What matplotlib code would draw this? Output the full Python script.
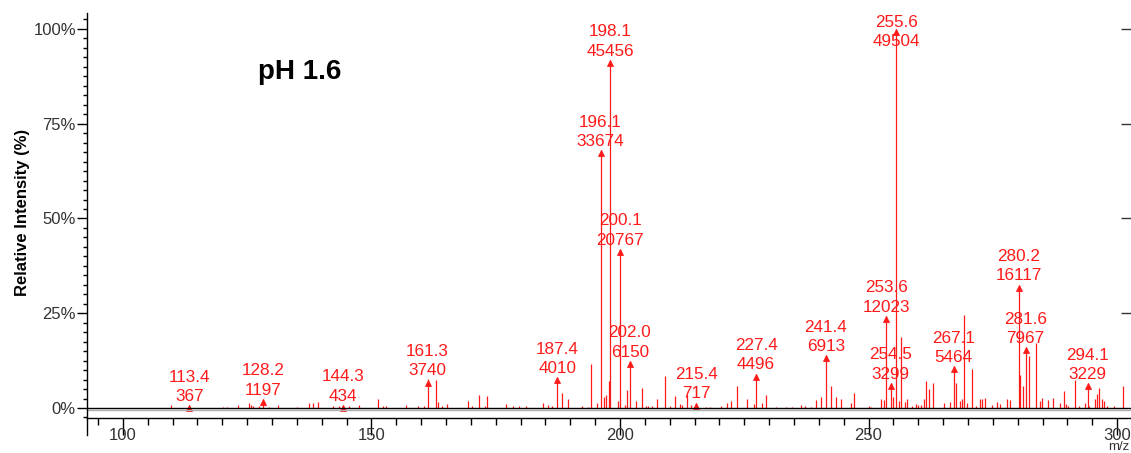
import matplotlib
matplotlib.use('Agg')
import matplotlib.pyplot as plt
from matplotlib.ticker import MultipleLocator, FuncFormatter
from matplotlib.transforms import offset_copy

plt.rcParams['font.family'] = ['Liberation Sans', 'DejaVu Sans']

# labelled peaks: m/z and raw counts as printed on the spectrum
label_mz = [113.4, 128.2, 144.3, 161.3, 187.4, 196.1, 198.1, 200.1, 202.0,
            215.4, 227.4, 241.4, 253.6, 254.5, 255.6, 267.1, 280.2, 281.6, 294.1]
label_counts = [367, 1197, 434, 3740, 4010, 33674, 45456, 20767, 6150,
                717, 4496, 6913, 12023, 3299, 49504, 5464, 16117, 7967, 3229]

# unlabelled peaks (m/z, relative intensity %)
peak_mz = [109.6, 120.2, 121.0, 123.2, 125.4, 125.8, 126.2, 127.4, 129.4, 131.2,
           135.1, 137.4, 138.3, 139.2, 142.3, 143.4, 145.5, 147.5, 151.3, 152.4,
           152.9, 156.9, 159.4, 160.6, 163.1, 163.5, 164.2, 165.2, 169.4, 170.3,
           171.7, 172.8, 173.2, 177.1, 178.4, 179.6, 181.2, 184.5, 185.5, 186.3,
           188.3, 189.5, 192.4, 193.5, 194.2, 195.3, 196.8, 197.2, 197.8, 199.7,
           201.0, 201.4, 203.2, 204.4, 205.2, 205.6, 206.4, 207.4, 209.1, 210.1,
           211.1, 212.1, 212.5, 213.4, 214.3, 217.4, 218.1, 220.3, 221.5, 222.3,
           223.5, 225.5, 226.9, 228.6, 229.4, 231.4, 233.4, 234.6, 236.4, 237.2,
           238.4, 239.5, 240.4, 242.4, 243.5, 244.5, 246.4, 247.1, 250.1, 250.5,
           252.5, 253.2, 255.0, 256.1, 256.5, 257.3, 257.7, 258.7, 259.5, 259.9,
           260.6, 261.1, 261.6, 262.2, 263.0, 265.1, 266.4, 267.5, 268.4, 268.9,
           269.2, 269.9, 270.9, 271.6, 272.4, 272.9, 273.5, 274.9, 275.8, 276.5,
           277.8, 278.5, 280.5, 281.1, 282.3, 283.6, 284.4, 284.9, 286.2, 287.2,
           288.5, 289.4, 289.7, 290.2, 291.6, 292.4, 293.6, 294.4, 295.6, 295.9,
           296.4, 296.9, 297.4, 297.9, 299.4, 301.1]
peak_pct = [0.7, 0.3, 0.3, 0.7, 1.2, 0.8, 0.5, 0.6, 0.3, 0.7,
            0.2, 1.2, 1.3, 1.5, 0.4, 0.4, 0.5, 0.7, 2.5, 0.4,
            0.6, 0.9, 0.4, 0.5, 7.4, 1.5, 0.4, 1.1, 1.8, 0.6,
            3.4, 0.4, 3.2, 1.1, 0.4, 0.4, 0.5, 1.4, 0.7, 0.4,
            3.9, 2.5, 0.5, 0.3, 11.5, 1.4, 2.8, 3.4, 7.0, 1.8,
            0.8, 4.7, 1.8, 5.3, 0.4, 0.4, 0.6, 2.3, 8.4, 0.4,
            3.2, 1.1, 0.8, 3.4, 0.8, 0.3, 0.3, 0.6, 1.4, 1.8,
            5.8, 2.5, 1.0, 1.4, 3.4, 0.3, 0.3, 0.3, 0.7, 0.5,
            0.3, 2.0, 3.0, 5.8, 2.8, 2.3, 1.4, 4.0, 0.4, 0.3,
            2.5, 2.0, 2.8, 1.9, 18.8, 1.5, 2.4, 0.4, 1.1, 0.9,
            0.8, 2.5, 7.0, 4.9, 6.7, 1.4, 1.7, 6.5, 1.8, 2.3,
            24.5, 1.2, 10.2, 0.6, 2.5, 2.3, 2.7, 0.7, 1.7, 1.0,
            2.5, 2.0, 8.7, 5.8, 13.7, 17.1, 1.8, 2.7, 2.0, 2.7,
            1.4, 4.6, 1.0, 0.5, 7.3, 0.5, 1.4, 0.6, 2.5, 3.6,
            5.2, 2.3, 1.8, 0.6, 0.4, 5.8]

max_count = max(label_counts)
label_pct = [c / max_count * 100 for c in label_counts]

W, H = 1131, 453
fig = plt.figure(figsize=(W / 100, H / 100), dpi=100)
ax = fig.add_axes([87 / W, 35 / H, 1 - 87 / W, 405 / H])

red = '#ff1a1a'
dark = '#333333'

ax.vlines(peak_mz, 0, peak_pct, color=red, lw=0.9)
ax.vlines(label_mz, 0, label_pct, color=red, lw=0.9)

# small arrow heads, tip sitting on the peak top
tr = offset_copy(ax.transData, fig=fig, y=-2.3, units='points')
ax.plot(label_mz, label_pct, linestyle='none', marker='^', ms=4.6,
        color=red, mew=0.6, transform=tr)

ax.axhline(0, color='black', lw=1.0, zorder=3)
ax.axhline(-0.6, color='#b0b0b0', lw=1.0, zorder=2)

label_cap = 94.3
for mz, pct, cnt in zip(label_mz, label_pct, label_counts):
    y = min(pct, label_cap)
    ax.annotate(str(cnt), (mz, y), xytext=(0, 3), textcoords='offset points',
                ha='center', va='baseline', color=red, fontsize=12.3)
    ax.annotate('%.1f' % mz, (mz, y), xytext=(0, 16.9), textcoords='offset points',
                ha='center', va='baseline', color=red, fontsize=12.3)

ax.set_xlim(92.8, 302.8)
ax.set_ylim(-2.64, 104.2)

ax.spines['top'].set_visible(False)
ax.spines['right'].set_visible(False)
for s in ['left', 'bottom']:
    ax.spines[s].set_color('black')
    ax.spines[s].set_linewidth(1.0)

ax.xaxis.set_major_locator(MultipleLocator(50))
ax.xaxis.set_minor_locator(MultipleLocator(5))
ax.yaxis.set_major_locator(MultipleLocator(25))
ax.yaxis.set_minor_locator(MultipleLocator(2.5))
ax.yaxis.set_major_formatter(FuncFormatter(lambda v, p: '%d%%' % v))
ax.set_yticks([0, 25, 50, 75, 100])

ax.tick_params(axis='x', which='major', length=12, width=1, pad=-5,
               labelsize=12, labelcolor=dark, color='black')
ax.tick_params(axis='x', which='minor', length=5, width=1, color='black')
ax.tick_params(axis='y', which='major', length=7, width=1, pad=1,
               labelsize=12, labelcolor=dark, color='black')
ax.tick_params(axis='y', which='minor', length=3, width=1, color='black')

# left axis line carries on below the x axis
ax.plot([0, 0], [0, -17 / 405], transform=ax.transAxes, color='black',
        lw=1.0, clip_on=False)

# right-hand ticks pointing inwards
ax2 = ax.twinx()
ax2.set_ylim(ax.get_ylim())
ax2.set_yticks([25, 50, 75, 100])
ax2.tick_params(axis='y', direction='in', length=7, width=1, color=dark,
                labelright=False)
for s in ax2.spines.values():
    s.set_visible(False)

fig.text(258 / W, 1 - 79 / H, 'pH 1.6', fontsize=20, fontweight='bold',
         va='baseline', ha='left')
fig.text(22 / W, 1 - 212 / H, 'Relative Intensity (%)', rotation=90,
         fontsize=12, fontweight='bold', ha='center', va='center')
fig.text(1119 / W, 0.5 / H, 'm/z', fontsize=9.5, color=dark,
         ha='center', va='bottom')

fig.savefig('out.png', dpi=100)
